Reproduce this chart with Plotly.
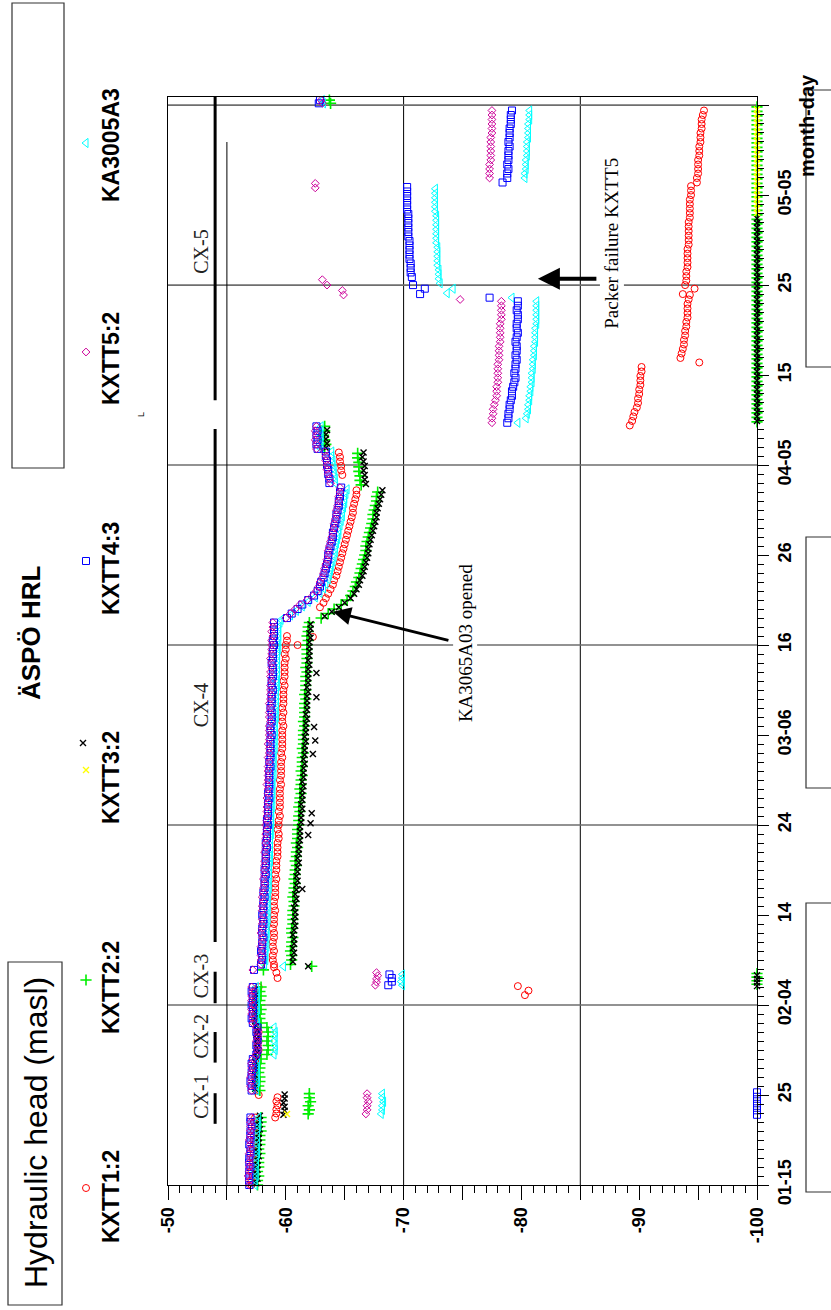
import pandas as pd
import plotly.graph_objects as go

BASE = pd.Timestamp("2001-01-15")

def dt(d):
    return BASE + pd.Timedelta(days=d)

# ---------------- data (day offsets from 2001-01-15, hydraulic head in masl) -------------
# each run: (start_day, sampling_step_days, [heads])  or  ([days], None, [heads])
kxtt1_runs = [  # KXTT1:2, red circles
    (0.0, 0.5, [-57.1,-57.1,-57.2,-57.1,-57.2,-57.2,-57.2,-57.3,-57.2,-57.3,-57.3,-57.3,-57.3,-57.4,-57.3,-57.4]),
    (7.5, 0.45, [-59.1,-59.2,-59.2,-59.3,-59.2,-59.3]),
    (10.0, 0.5, [-57.7,-57.5,-57.4,-57.5,-57.4,-57.5,-57.4,-57.5,-57.5,-57.6,-57.7,-57.6,-57.7,-57.6,-57.7,-57.6,
                 -57.5,-57.4,-57.4,-57.5,-57.4,-57.4,-57.5,-57.4,-57.7]),
    ([21.1, 21.6, 22.1], None, [-80.3, -80.6, -79.7]),
    ([23.0, 23.6, 24.2], None, [-59.3, -59.2, -59.0]),
    (24.5, 0.5, [-59.0,-58.9,-58.9,-59.0,-58.9,-58.9,-59.0,-59.0,-58.9,-59.0,-59.0,-59.0,-59.1,-59.0,
                 -59.0,-59.1,-59.1,-59.1,-59.1,-59.2,-59.1,-59.2,-59.2,-59.2,-59.3,-59.3,-59.3,-59.3,
                 -59.4,-59.4,-59.3,-59.4,-59.4,-59.5,-59.4,-59.5,-59.5,-59.5,-59.5,-59.5,-59.6,-59.5,
                 -59.6,-59.6,-59.6,-59.6,-59.7,-59.6,-59.7,-59.7,-59.7,-59.7,-59.7,-59.8,-59.7,-59.7,
                 -59.8,-59.7,-59.8,-59.8,-59.8,-59.8,-59.9,-59.8,-59.9,-59.9,-59.9,-59.9,-60.0,-59.9,
                 -60.0,-60.0,-60.1,-60.1]),
    ([60.0, 60.9], None, [-61.0, -62.3]),
    (64.2, 0.5, [-62.9,-63.2,-63.4,-63.6,-63.8,-64.0,-64.1,-64.3,-64.4,-64.5,-64.6,-64.7,-64.8,-64.9,
                 -65.0,-65.1,-65.2,-65.3,-65.4,-65.5,-65.6,-65.7,-65.7,-65.8,-65.9,-66.0,-66.0]),
    (78.9, 0.5, [-64.8,-64.7,-64.7,-64.6,-64.6,-64.5]),
    (84.4, 0.5, [-89.2,-89.4,-89.5,-89.6,-89.8,-89.9,-89.9,-90.0,-90.0,-90.1,-90.1,-90.1,-90.2,-90.2]),
    ([91.4], None, [-95.1]),
    (91.9, 0.5, [-93.5,-93.6,-93.7,-93.8,-93.8,-93.9,-93.9,-94.0,-94.0,-94.1,-94.1,-94.1,-94.1,-94.2,-94.3]),
    ([99.0, 99.6], None, [-93.7, -94.7]),
    (100.0, 0.5, [-93.9,-94.0,-94.0,-94.0,-94.1,-94.1,-94.1,-94.1,-94.1,-94.2,-94.2,-94.2,-94.2,-94.2,
                  -94.2,-94.3,-94.3,-94.3,-94.3,-94.3,-94.4,-94.4,-94.4]),
    (111.4, 0.5, [-94.9,-94.9,-95.0,-95.0,-95.0,-95.0,-95.1,-95.1,-95.1,-95.2,-95.2,-95.2,-95.3,-95.3,
                  -95.3,-95.4,-95.5]),
]

kxtt2_runs = [  # KXTT2:2, green crosses
    (0.0, 0.5, [-57.6,-57.6,-57.7,-57.6,-57.7,-57.7,-57.7,-57.8,-57.7,-57.8,-57.8,-57.8,-57.9,-57.8,-57.9,-57.9]),
    (7.9, 0.45, [-61.9,-62.0,-61.9,-62.1,-62.0,-62.0]),
    (10.5, 0.5, [-57.8,-57.7,-57.8,-57.8,-57.7,-57.8,-57.8,-57.9,-58.4,-58.5,-58.5,-58.4,-58.5,-58.5,-58.4,
                 -57.9,-57.8,-57.8,-57.9,-57.8,-57.8,-57.9,-57.8,-57.9]),
    (22.3, 0.4, [-100.0,-100.0,-100.0,-100.0]),
    ([23.9, 24.3], None, [-58.1, -62.2]),
    (24.5, 0.5, [-60.4,-60.5,-60.5,-60.4,-60.5,-60.5,-60.6,-60.5,-60.5,-60.6,-60.6,-60.6,-60.6,-60.7,
                 -60.7,-60.6,-60.7,-60.7,-60.8,-60.7,-60.8,-60.8,-60.9,-60.8,-60.9,-60.9,-61.0,-60.9,
                 -61.0,-61.0,-61.0,-61.1,-61.1,-61.1,-61.2,-61.1,-61.2,-61.2,-61.3,-61.2,-61.3,-61.3,
                 -61.4,-61.3,-61.4,-61.4,-61.4,-61.5,-61.4,-61.5,-61.5,-61.5,-61.5,-61.6,-61.5,-61.6,
                 -61.6,-61.6,-61.6,-61.7,-61.6,-61.7,-61.7,-61.7,-61.7,-61.8,-61.7,-61.8,-61.8,-61.8,
                 -61.8,-61.8,-61.9,-61.8,-61.9,-61.9,-62.0]),
    (63.0, 0.5, [-63.0,-63.6,-64.1,-64.7,-65.2,-65.5,-65.7,-65.9,-66.0,-66.2,-66.3,-66.4,-66.5,-66.6,
                 -66.7,-66.8,-66.8,-66.9,-67.0,-67.1,-67.2,-67.3,-67.4,-67.4,-67.5,-67.6,-67.7,-67.7,-67.8]),
    (77.8, 0.5, [-66.4,-66.3,-66.3,-66.2,-66.2,-66.2,-66.1,-66.1]),
    (81.8, 0.5, [-63.3,-63.4,-63.3,-63.2,-63.3,-63.3]),
    (84.8, 0.5, [-100.0,-100.0,-100.0,-100.0,-100.0,-100.0,-100.0,-100.0,-100.0,-100.0,
                 -100.0,-100.0,-100.0,-100.0,-100.0,-100.0,-100.0,-100.0,-100.0,-100.0,
                 -100.0,-100.0,-100.0,-100.0,-100.0,-100.0,-100.0,-100.0,-100.0,-100.0,
                 -100.0,-100.0,-100.0,-100.0,-100.0,-100.0,-100.0,-100.0,-100.0,-100.0,
                 -100.0,-100.0,-100.0,-100.0,-100.0,-100.0,-100.0,-100.0,-100.0,-100.0,
                 -100.0,-100.0,-100.0,-100.0,-100.0,-100.0,-100.0,-100.0,-100.0,-100.0,
                 -100.0,-100.0,-100.0,-100.0,-100.0,-100.0,-100.0,-100.0,-100.0,-100.0,-100.0]),
    ([120.2, 120.55], None, [-63.8, -63.7]),
]

kxtt3_runs = [  # KXTT3:2, black x
    (0.2, 0.5, [-57.5,-57.6,-57.5,-57.6,-57.6,-57.6,-57.7,-57.6,-57.7,-57.7,-57.7,-57.7,-57.8,-57.7,-57.8,-57.8]),
    (7.8, 0.45, [-59.8,-59.9,-59.9,-59.8,-59.9,-59.9]),
    (10.7, 0.5, [-57.4,-57.4,-57.5,-57.4,-57.5,-57.5,-57.4,-57.5,-57.6,-57.5,-57.6,-57.6,-57.5,-57.6,-57.5,
                 -57.4,-57.5,-57.4,-57.4,-57.5,-57.4,-57.5,-57.4]),
    (22.1, 0.4, [-100.0,-100.0,-100.0,-100.0]),
    ([24.3], None, [-61.9]),
    (24.8, 0.5, [-60.6,-60.6,-60.7,-60.6,-60.7,-60.7,-60.6,-60.7,-60.8,-60.7,-60.8,-60.8,-60.7,-60.8,
                 -60.9,-60.8,-60.9,-60.9,-61.0,-60.9,-61.0,-61.0,-61.1,-61.0,-61.1,-61.1,-61.1,-61.2,
                 -61.2,-61.2,-61.2,-61.3,-61.3,-61.3,-61.4,-61.3,-61.4,-61.4,-61.4,-61.5,-61.4,-61.5,
                 -61.5,-61.5,-61.6,-61.5,-61.6,-61.6,-61.6,-61.7,-61.6,-61.7,-61.7,-61.7,-61.8,-61.7,
                 -61.8,-61.8,-61.8,-61.8,-61.9,-61.8,-61.9,-61.9,-61.9,-61.9,-62.0,-61.9,-62.0,-62.0,
                 -62.0,-62.0,-62.1,-62.0,-62.1,-62.1]),
    ([32.9, 38.9, 40.2, 41.3, 47.9, 49.4, 50.9, 54.2, 56.9], None,
     [-61.4, -61.9, -62.1, -62.2, -62.3, -62.5, -62.4, -62.6, -62.6]),
    (63.2, 0.5, [-63.3,-63.9,-64.5,-65.0,-65.5,-65.8,-66.0,-66.2,-66.3,-66.5,-66.6,-66.7,-66.8,-66.9,
                 -67.0,-67.0,-67.1,-67.2,-67.3,-67.4,-67.5,-67.6,-67.7,-67.7,-67.8,-67.9,-68.0,-68.1,-68.2]),
    (77.9, 0.5, [-66.8,-66.7,-66.7,-66.6,-66.7,-66.6,-66.5,-66.6]),
    (81.9, 0.5, [-63.4,-63.5,-63.4,-63.4,-63.5]),
    (84.9, 0.5, [-100.0,-100.0,-100.0,-100.0,-100.0,-100.0,-100.0,-100.0,-100.0,-100.0,
                 -100.0,-100.0,-100.0,-100.0,-100.0,-100.0,-100.0,-100.0,-100.0,-100.0,
                 -100.0,-100.0,-100.0,-100.0,-100.0,-100.0,-100.0,-100.0,-100.0,-100.0,
                 -100.0,-100.0,-100.0,-100.0,-100.0,-100.0,-100.0,-100.0,-100.0,-100.0,
                 -100.0,-100.0,-100.0,-100.0,-100.0,-100.0]),
]

kxtt3b_runs = [  # KXTT3:2 second symbol, yellow x
    ([7.9], None, [-60.1]),
    (108.0, 0.5, [-100.0,-100.0,-100.0,-100.0,-100.0,-100.0,-100.0,-100.0,-100.0,-100.0,-100.0,-100.0,
                  -100.0,-100.0,-100.0,-100.0,-100.0,-100.0,-100.0,-100.0,-100.0,-100.0,-100.0,-100.0]),
]

kxtt4_runs = [  # KXTT4:3, blue squares
    (0.0, 0.5, [-56.9,-56.9,-56.9,-56.9,-57.0,-56.9,-56.9,-57.0,-57.0,-56.9,-57.0,-57.0,-57.0,-57.1,-57.0,-57.0]),
    (7.8, 0.5, [-100.0,-100.0,-100.0,-100.0,-100.0,-100.0]),
    (10.5, 0.5, [-57.1,-57.1,-57.0,-57.1,-57.1,-57.2,-57.1,-57.2,-57.5,-57.6,-57.5,-57.6,-57.6,-57.5,-57.6,
                 -57.2,-57.1,-57.2,-57.2,-57.1,-57.2,-57.2,-57.1,-57.2]),
    (22.2, 0.4, [-68.7,-69.0,-69.0,-68.8]),
    ([23.9], None, [-57.3]),
    (24.5, 0.5, [-57.9,-58.0,-58.0,-57.9,-58.0,-58.0,-58.1,-58.0,-58.0,-58.1,-58.1,-58.0,-58.1,-58.1,
                 -58.1,-58.2,-58.1,-58.2,-58.2,-58.2,-58.3,-58.2,-58.3,-58.3,-58.3,-58.3,-58.4,-58.3,
                 -58.4,-58.4,-58.4,-58.5,-58.4,-58.5,-58.5,-58.5,-58.5,-58.6,-58.5,-58.6,-58.6,-58.6,
                 -58.6,-58.6,-58.7,-58.6,-58.7,-58.7,-58.7,-58.7,-58.7,-58.8,-58.7,-58.7,-58.8,-58.8,
                 -58.8,-58.7,-58.8,-58.8,-58.8,-58.9,-58.8,-58.8,-58.9,-58.9,-58.9,-58.8,-58.9,-58.9,
                 -58.9,-59.0,-58.9,-59.0,-59.0,-59.0,-59.0]),
    (63.0, 0.5, [-60.1,-60.5,-61.0,-61.4,-61.9,-62.4,-62.7,-62.9,-63.0,-63.2,-63.3,-63.4,-63.5,-63.6,-63.6,
                 -63.7,-63.8,-63.9,-64.0,-64.0,-64.1,-64.2,-64.3,-64.3,-64.4,-64.5,-64.5,-64.6,-64.6,-64.7]),
    (78.0, 0.5, [-63.7,-63.7,-63.6,-63.6,-63.5,-63.5,-63.4,-63.4]),
    (81.8, 0.5, [-62.7,-62.6,-62.7,-62.6,-62.7,-62.6]),
    (84.7, 0.5, [-78.8,-78.9,-78.9,-79.0,-79.0,-79.1,-79.2,-79.2,-79.3,-79.4,-79.5,-79.4,-79.5,-79.5,
                 -79.6,-79.5,-79.6,-79.6,-79.5,-79.6,-79.7,-79.6,-79.6,-79.7,-79.7,-79.6,-79.7,-79.7]),
    ([98.6, 99.0, 99.6, 100.0], None, [-77.3, -71.4, -71.8, -70.8]),
    (100.9, 0.5, [-70.7,-70.6,-70.6,-70.6,-70.5,-70.5,-70.5,-70.5,-70.5,-70.4,-70.4,-70.4,-70.4,-70.4,
                  -70.4,-70.3,-70.3,-70.3,-70.3,-70.3,-70.3]),
    ([111.4], None, [-78.4]),
    (111.9, 0.5, [-78.8,-78.8,-78.9,-78.8,-78.9,-78.9,-78.9,-79.0,-78.9,-79.0,-79.0,-79.0,-79.1,-79.1,-79.1,-79.2]),
    ([120.2, 120.55], None, [-62.8, -62.9]),
]

kxtt5_runs = [  # KXTT5:2, magenta diamonds
    (0.0, 0.5, [-56.9,-56.9,-56.8,-56.9,-56.9,-56.9,-57.0,-56.9,-57.0,-57.0,-56.9,-57.0,-57.0,-57.0,-57.0,-57.1]),
    (7.9, 0.45, [-66.8,-66.9,-66.9,-67.0,-66.9,-66.9]),
    (10.5, 0.5, [-57.1,-57.0,-57.1,-57.0,-57.1,-57.1,-57.1,-57.2,-57.5,-57.6,-57.6,-57.5,-57.6,-57.6,-57.5,
                 -57.2,-57.2,-57.1,-57.1,-57.2,-57.1,-57.1,-57.2,-57.1]),
    (22.2, 0.35, [-67.6,-67.7,-67.7,-67.8,-67.7]),
    ([23.9], None, [-57.2]),
    (24.5, 0.5, [-57.9,-57.9,-57.9,-58.0,-57.9,-58.0,-58.0,-57.9,-58.0,-58.0,-58.0,-58.1,-58.0,-58.0,
                 -58.1,-58.0,-58.1,-58.1,-58.2,-58.1,-58.2,-58.2,-58.2,-58.2,-58.3,-58.2,-58.3,-58.3,
                 -58.3,-58.3,-58.4,-58.3,-58.4,-58.4,-58.4,-58.4,-58.5,-58.4,-58.5,-58.5,-58.4,-58.5,
                 -58.5,-58.5,-58.5,-58.6,-58.5,-58.6,-58.6,-58.5,-58.6,-58.6,-58.6,-58.6,-58.7,-58.6,
                 -58.6,-58.7,-58.6,-58.7,-58.7,-58.7,-58.7,-58.8,-58.7,-58.7,-58.8,-58.8,-58.7,-58.8,
                 -58.8,-58.8,-58.8,-58.9,-58.8,-58.9,-58.9]),
    (63.0, 0.5, [-60.0,-60.4,-60.8,-61.2,-61.8,-62.3,-62.6,-62.8,-62.9,-63.1,-63.2,-63.3,-63.4,-63.5,-63.6,
                 -63.6,-63.7,-63.8,-63.9,-64.0,-64.1,-64.1,-64.2,-64.3,-64.3,-64.4,-64.5,-64.5,-64.6,-64.6]),
    (78.0, 0.5, [-63.8,-63.7,-63.6,-63.5,-63.5,-63.4,-63.4,-63.3]),
    (81.8, 0.5, [-62.6,-62.6,-62.5,-62.6,-62.5,-62.6]),
    (84.7, 0.5, [-77.5,-77.5,-77.6,-77.6,-77.7,-77.8,-77.9,-77.9,-77.9,-78.0,-78.0,-78.0,-78.0,-78.0,
                 -78.1,-78.1,-78.1,-78.1,-78.2,-78.2,-78.2,-78.2,-78.2,-78.3,-78.3,-78.3,-78.3,-78.3]),
    ([98.4, 98.9, 99.4, 100.0, 100.6, 110.8, 111.3], None,
     [-74.8, -64.9, -64.8, -63.5, -63.1, -62.5, -62.5]),
    (111.9, 0.5, [-77.3,-77.3,-77.3,-77.3,-77.4,-77.4,-77.4,-77.4,-77.4,-77.4,-77.5,-77.5,-77.5,-77.5,-77.5,-77.5]),
    ([120.2, 120.55], None, [-63.1, -63.0]),
]

ka3005_runs = [  # KA3005A3, cyan triangles
    (0.0, 0.5, [-57.4,-57.4,-57.5,-57.4,-57.5,-57.5,-57.5,-57.6,-57.5,-57.6,-57.6,-57.6,-57.6,-57.7,-57.6,-57.7]),
    (7.9, 0.45, [-68.1,-68.2,-68.2,-68.3,-68.2,-68.2]),
    (10.5, 0.5, [-57.5,-57.5,-57.6,-57.5,-57.6,-57.5,-57.6,-57.6,-59.0,-59.1,-59.1,-59.0,-59.1,-59.1,-59.0,
                 -57.6,-57.5,-57.5,-57.6,-57.5,-57.6,-57.5,-57.6,-57.5]),
    (22.2, 0.4, [-69.9,-69.8,-69.9,-69.9]),
    ([24.3], None, [-59.8]),
    (24.5, 0.5, [-58.2,-58.3,-58.3,-58.3,-58.4,-58.3,-58.4,-58.4,-58.4,-58.4,-58.5,-58.4,-58.5,-58.5,
                 -58.5,-58.5,-58.5,-58.6,-58.5,-58.6,-58.6,-58.6,-58.6,-58.7,-58.6,-58.7,-58.7,-58.7,
                 -58.7,-58.8,-58.7,-58.8,-58.8,-58.8,-58.8,-58.9,-58.8,-58.9,-58.9,-58.9,-58.9,-58.9,
                 -59.0,-58.9,-59.0,-59.0,-59.0,-59.0,-59.1,-59.0,-59.1,-59.1,-59.1,-59.1,-59.1,-59.2,
                 -59.1,-59.2,-59.2,-59.2,-59.2,-59.2,-59.3,-59.2,-59.3,-59.3,-59.3,-59.3,-59.3,-59.3,
                 -59.4,-59.3,-59.4,-59.4,-59.4,-59.4,-59.5]),
    (62.8, 0.5, [-59.6,-60.4,-60.9,-61.4,-61.9,-62.5,-62.9,-63.2,-63.4,-63.6,-63.7,-63.8,-63.9,-64.0,-64.1,
                 -64.2,-64.2,-64.3,-64.4,-64.5,-64.5,-64.6,-64.7,-64.8,-64.8,-64.9,-65.0,-65.0,-65.1,-65.2]),
    (78.0, 0.5, [-64.2,-64.2,-64.1,-64.1,-64.0,-64.0,-63.9,-63.9]),
    (81.8, 0.5, [-63.0,-62.9,-63.0,-63.0,-62.9,-63.0]),
    (84.7, 0.5, [-79.7,-80.4,-80.5,-80.6,-80.6,-80.7,-80.7,-80.8,-80.8,-80.9,-80.9,-80.9,-81.0,-81.0,
                 -81.0,-81.1,-81.1,-81.1,-81.2,-81.2,-81.2,-81.2,-81.3,-81.3,-81.3,-81.3,-81.3,-81.3]),
    ([98.6, 99.1, 99.6], None, [-79.2, -73.7, -74.2]),
    (100.2, 0.5, [-73.1,-73.0,-73.0,-73.0,-72.9,-72.9,-72.9,-72.9,-72.9,-72.8,-72.8,-72.8,-72.8,-72.8,
                  -72.8,-72.8,-72.7,-72.7,-72.7,-72.7,-72.7,-72.7]),
    (111.9, 0.5, [-80.3,-80.3,-80.4,-80.4,-80.4,-80.5,-80.5,-80.5,-80.5,-80.6,-80.6,-80.6,-80.6,-80.7,-80.7,-80.7]),
    ([120.2, 120.55], None, [-63.2, -63.1]),
]

# axis ticks / labels
head_ticks = [-50, -55, -60, -65, -70, -75, -80, -85, -90, -95, -100]
head_labels = ["-50", "", "-60", "", "-70", "", "-80", "", "-90", "", "-100"]
date_tick_days = [0, 10, 20, 30, 40, 50, 60, 70, 80, 90, 100, 110, 120]
date_tick_labels = ["01-15", "25", "02-04", "14", "24", "03-06", "16", "26", "04-05", "15", "25", "05-05", ""]
grid_days = [20, 40, 60, 80, 100, 120]
grid_heads = [-70, -85]

# test periods
cx_names = ["CX-1", "CX-2", "CX-3", "CX-4", "CX-5"]
cx_periods = [(6.8, 10.2), (13.6, 17.0), (20.2, 23.7), (27.0, 84.0), (87.2, 120.9)]
cx_label_days = [9.8, 16.5, 23.2, 53.3, 103.7]


def expand(runs):
    days, vals = [], []
    for start, step, values in runs:
        if step is None:
            days.extend(start)
        else:
            days.extend([start + i * step for i in range(len(values))])
        vals.extend(values)
    return [dt(d) for d in days], vals


series = [
    ("KXTT1:2", kxtt1_runs, dict(symbol="circle-open", size=7, color="#FF0000", line=dict(width=1, color="#FF0000"))),
    ("KXTT2:2", kxtt2_runs, dict(symbol="cross-thin-open", size=8, color="#00EE00", line=dict(width=1.6, color="#00EE00"))),
    ("KXTT3:2", kxtt3_runs, dict(symbol="x-thin-open", size=6, color="#000000", line=dict(width=1.4, color="#000000"))),
    ("KXTT3:2b", kxtt3b_runs, dict(symbol="x-thin-open", size=6, color="#FFFF00", line=dict(width=1.4, color="#FFFF00"))),
    ("KA3005A3", ka3005_runs, dict(symbol="triangle-left-open", size=8, color="#00FFFF", line=dict(width=1, color="#00FFFF"))),
    ("KXTT4:3", kxtt4_runs, dict(symbol="square-open", size=7, color="#0000FF", line=dict(width=1, color="#0000FF"))),
    ("KXTT5:2", kxtt5_runs, dict(symbol="diamond-open", size=6, color="#CC0099", line=dict(width=1, color="#CC0099"))),
]

fig = go.Figure()
for name, runs, mk in series:
    y, x = expand(runs)
    fig.add_trace(go.Scatter(x=x, y=y, mode="markers", name=name, marker=mk,
                             showlegend=False, cliponaxis=False, xaxis="x", yaxis="y"))

# legend markers (page-pixel overlay axes)
leg_items = [
    ("KXTT1:2", [86], [1188], 0, 1197),
    ("KXTT2:2", [86], [980], 1, 988),
    ("KXTT3:2", [83], [743], 2, 778),
    ("", [86], [770], 3, None),
    ("KXTT4:3", [86], [561], 5, 569),
    ("KXTT5:2", [86], [352], 6, 359),
    ("KA3005A3", [86], [143], 4, 145),
]
W, H = 831, 1310
annotations = []
for label, lx, ly, si, ty in leg_items:
    fig.add_trace(go.Scatter(x=lx, y=ly, mode="markers", marker=series[si][2], showlegend=False,
                             xaxis="x2", yaxis="y2", cliponaxis=False, hoverinfo="skip"))
    if ty is not None:
        annotations.append(dict(x=111, y=ty, xref="x2", yref="y2", text=label, showarrow=False,
                                textangle=-90, font=dict(family="Liberation Sans, Arial", size=23,
                                                         color="black", weight="bold")))

annotations += [
    dict(x=31, y=633, xref="x2", yref="y2", text="ÄSPÖ HRL", showarrow=False, textangle=-90,
         font=dict(family="Liberation Sans, Arial", size=26, color="black", weight="bold")),
    dict(x=36, y=1133, xref="x2", yref="y2", text="Hydraulic head (masl)", showarrow=False, textangle=-90,
         font=dict(family="Liberation Sans, Arial", size=32, color="black")),
    dict(x=807, y=126, xref="x2", yref="y2", text="month-day", showarrow=False, textangle=-90,
         font=dict(family="Liberation Sans, Arial", size=20, color="black", weight="bold")),
    dict(x=141, y=415, xref="x2", yref="y2", text="L", showarrow=False, textangle=-90,
         font=dict(family="Liberation Sans, Arial", size=9, color="black")),
]
for nm, d in zip(cx_names, cx_label_days):
    annotations.append(dict(x=-52.8, y=dt(d), xref="x", yref="y", text=nm, showarrow=False, textangle=-90,
                            font=dict(family="Liberation Serif, Times New Roman", size=20, color="#222")))

serif = dict(family="Liberation Serif, Times New Roman", size=19, color="black")
annotations += [
    dict(x=-75.2, y=dt(60.2), xref="x", yref="y", text="KA3065A03 opened", showarrow=False,
         textangle=-90, font=serif, bgcolor="white", borderpad=1),
    dict(x=-87.7, y=dt(104.6), xref="x", yref="y", text="Packer failure KXTT5", showarrow=False,
         textangle=-90, font=serif, bgcolor="white", borderpad=1),
    dict(x=-64.0, y=dt(63.7), xref="x", yref="y", text="", showarrow=True, ax=117, ay=29,
         arrowhead=2, arrowsize=1.2, arrowwidth=3, arrowcolor="black"),
    dict(x=-81.4, y=dt(100.7), xref="x", yref="y", text="", showarrow=True, ax=60, ay=0,
         arrowhead=2, arrowsize=1.1, arrowwidth=4, arrowcolor="black"),
]

shapes = []
for d in grid_days:
    shapes.append(dict(type="line", xref="x", yref="y", x0=-50, x1=-100, y0=dt(d), y1=dt(d),
                       line=dict(color="#6e6e6e", width=1.6), layer="below"))
for h in grid_heads:
    shapes.append(dict(type="line", xref="x", yref="paper", x0=h, x1=h, y0=125 / H, y1=(H - 97) / H,
                       line=dict(color="black", width=1), layer="below"))
shapes.append(dict(type="line", xref="x", yref="y", x0=-55, x1=-55, y0=dt(0), y1=dt(115.9),
                   line=dict(color="black", width=1), layer="below"))
for a, b in cx_periods:
    shapes.append(dict(type="line", xref="x", yref="y", x0=-54.0, x1=-54.0, y0=dt(a), y1=dt(b),
                       line=dict(color="black", width=3)))
# boxes in page pixels
boxes = [(12, 3, 64, 468), (8, 962, 62, 1305), (806, 90, 845, 367), (806, 537, 845, 788), (806, 903, 845, 1192)]
for x0, y0, x1, y1 in boxes:
    shapes.append(dict(type="rect", xref="x2", yref="y2", x0=x0, x1=x1, y0=y0, y1=y1,
                       line=dict(color="#333", width=1.2), fillcolor="rgba(0,0,0,0)"))

tickfont = dict(family="Liberation Sans, Arial", size=18, color="black", weight="bold")
fig.update_layout(
    width=W, height=H, autosize=False, template="none",
    margin=dict(l=0, r=0, t=0, b=0),
    paper_bgcolor="white", plot_bgcolor="rgba(0,0,0,0)",
    showlegend=False,
    xaxis=dict(domain=[168 / W, 757 / W], range=[-50, -100], anchor="y",
               tickmode="array", tickvals=head_ticks, ticktext=head_labels,
               ticks="outside", ticklen=14, tickwidth=1, tickcolor="black", tickangle=-90,
               tickfont=tickfont, showgrid=False, zeroline=False, automargin=False,
               showline=True, linecolor="black", linewidth=1, mirror=True,
               minor=dict(dtick=1, tick0=-50, ticks="outside", ticklen=7, tickcolor="black", showgrid=False)),
    yaxis=dict(domain=[125 / H, (H - 97) / H], type="date", range=[dt(0), dt(120.9)], anchor="x",
               side="right", tickmode="array", tickvals=[dt(d) for d in date_tick_days],
               ticktext=date_tick_labels, ticks="outside", ticklen=11, tickwidth=1, tickcolor="black",
               tickangle=-90, tickfont=tickfont, showgrid=False, zeroline=False, automargin=False,
               showline=True, linecolor="black", linewidth=1, mirror=True,
               minor=dict(dtick=86400000, tick0=dt(0), ticks="outside", ticklen=6, tickcolor="black",
                          showgrid=False)),
    xaxis2=dict(domain=[0, 1], range=[0, W], anchor="y2", visible=False, fixedrange=True),
    yaxis2=dict(domain=[0, 1], range=[H, 0], anchor="x2", visible=False, fixedrange=True),
    annotations=annotations,
    shapes=shapes,
)

fig.write_html("out.html", config={"displayModeBar": False},
               post_script="document.body.style.margin='0px';document.body.style.overflow='hidden';")
